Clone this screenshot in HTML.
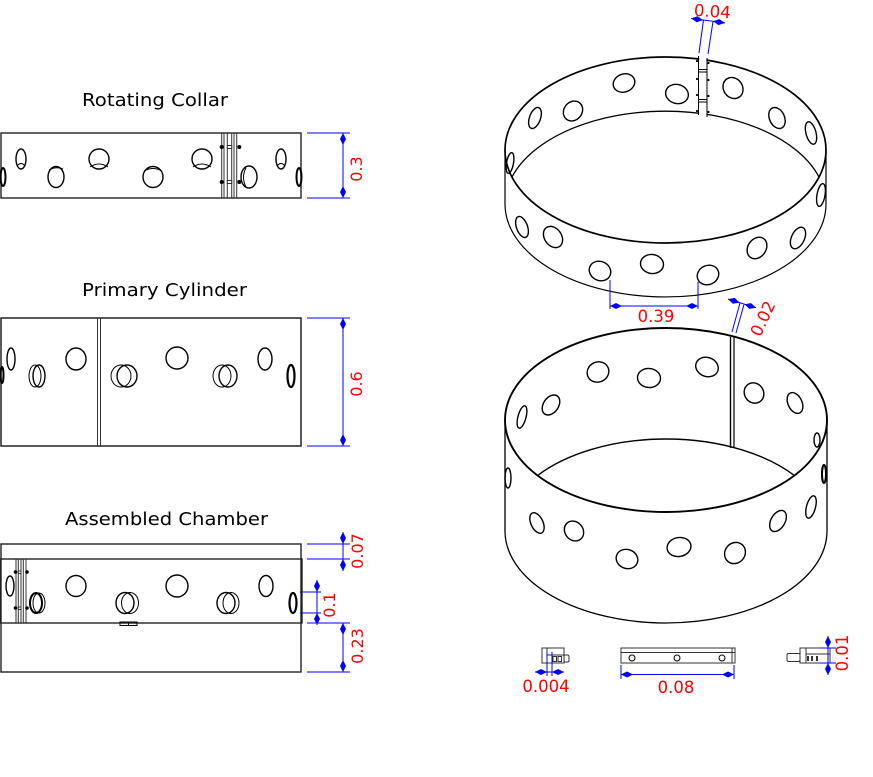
<!DOCTYPE html>
<html><head><meta charset="utf-8">
<style>
html,body{margin:0;padding:0;background:#fff;}
svg{display:block;}
text{font-family:"DejaVu Sans","Liberation Sans",sans-serif;}
</style></head><body>
<svg width="873" height="777" viewBox="0 0 873 777" xmlns="http://www.w3.org/2000/svg">
<rect width="873" height="777" fill="#fff"/>

<!-- ========== TITLES ========== -->
<text x="82" y="106" font-size="18" textLength="146" lengthAdjust="spacingAndGlyphs" fill="#000">Rotating Collar</text>
<text x="82" y="296" font-size="18" textLength="165" lengthAdjust="spacingAndGlyphs" fill="#000">Primary Cylinder</text>
<text x="65" y="525" font-size="18" textLength="203" lengthAdjust="spacingAndGlyphs" fill="#000">Assembled Chamber</text>

<!-- ========== ROTATING COLLAR ========== -->
<g fill="none" stroke="#222" stroke-width="1.4">
  <rect x="1" y="133" width="300" height="65"/>
</g>
<g fill="none" stroke="#333" stroke-width="1">
  <line x1="221.7" y1="133" x2="221.7" y2="198"/>
  <line x1="224" y1="133" x2="224" y2="198"/>
  <line x1="227.3" y1="133" x2="227.3" y2="198"/>
  <line x1="231.7" y1="133" x2="231.7" y2="198"/>
  <line x1="234" y1="133" x2="234" y2="198"/>
  <line x1="236.7" y1="133" x2="236.7" y2="198"/>
  <rect x="227.3" y="145.5" width="4.4" height="3" fill="#fff"/>
  <rect x="227.3" y="180.5" width="4.4" height="3" fill="#fff"/>
</g>
<g fill="#000">
  <circle cx="221.7" cy="147" r="2"/><circle cx="239.3" cy="147" r="2"/>
  <circle cx="221.7" cy="182" r="2"/><circle cx="239.3" cy="182" r="2"/>
</g>
<g fill="none" stroke="#000" stroke-width="1.4">
  <ellipse cx="3" cy="177" rx="2.5" ry="9" stroke-width="2"/>
  <ellipse cx="21" cy="159" rx="5" ry="10"/>
  <path d="M17,166 Q21,161 25,166" stroke-width="1"/>
  <ellipse cx="56" cy="177" rx="8" ry="10.5"/>
  <path d="M49,170 Q56,166 63,169" stroke-width="1"/>
  <ellipse cx="99" cy="159" rx="10" ry="10"/>
  <path d="M90,167 Q99,161 108,167" stroke-width="1"/>
  <ellipse cx="153" cy="177" rx="10" ry="10.5"/>
  <path d="M144,171 Q153,166 162,171" stroke-width="1"/>
  <ellipse cx="202" cy="159" rx="10" ry="10"/>
  <path d="M193,167 Q202,161 211,167" stroke-width="1"/>
  <ellipse cx="249" cy="177" rx="8" ry="11"/>
  <path d="M246,168 Q241,177 246,187" stroke-width="1"/>
  <ellipse cx="281" cy="159" rx="5" ry="10"/>
  <path d="M277,166 Q281,161 285,166" stroke-width="1"/>
  <ellipse cx="299" cy="177" rx="2.5" ry="9" stroke-width="2"/>
</g>
<!-- dim 0.3 -->
<g stroke="#0000ff" stroke-width="1" fill="none">
  <line x1="307" y1="133" x2="350" y2="133"/>
  <line x1="307" y1="198" x2="350" y2="198"/>
  <line x1="343" y1="133" x2="343" y2="198"/>
</g>
<g fill="#0000ff">
  <polygon points="343,133 346,139 343,145 340,139"/>
  <polygon points="343,198 346,192 343,186 340,192"/>
</g>
<text transform="translate(362,169) rotate(-90)" text-anchor="middle" font-size="16" fill="#ff0000">0.3</text>

<!-- ========== PRIMARY CYLINDER ========== -->
<g fill="none" stroke="#222" stroke-width="1.5">
  <rect x="1" y="318" width="300" height="128"/>
</g>
<g stroke="#333" stroke-width="1">
  <line x1="97.5" y1="318" x2="97.5" y2="446"/>
  <line x1="100.5" y1="318" x2="100.5" y2="446"/>
</g>
<g fill="none" stroke="#000" stroke-width="1.4">
  <ellipse cx="2" cy="375" rx="1.5" ry="8" stroke-width="2"/>
  <ellipse cx="11" cy="359" rx="4" ry="11"/>
  <ellipse cx="35" cy="376" rx="6" ry="11" stroke-width="1"/>
  <ellipse cx="39" cy="376" rx="6" ry="11"/>
  <ellipse cx="76" cy="359" rx="10" ry="11"/>
  <ellipse cx="121" cy="376" rx="10" ry="11" stroke-width="1"/>
  <ellipse cx="127" cy="376" rx="10" ry="11"/>
  <ellipse cx="177" cy="358" rx="11" ry="11"/>
  <ellipse cx="222" cy="376" rx="9" ry="11" stroke-width="1"/>
  <ellipse cx="228" cy="376" rx="9" ry="11"/>
  <ellipse cx="265" cy="359" rx="7" ry="11"/>
  <ellipse cx="291" cy="376" rx="3.5" ry="11" stroke-width="2.2"/>
</g>
<!-- dim 0.6 -->
<g stroke="#0000ff" stroke-width="1" fill="none">
  <line x1="307" y1="318" x2="350" y2="318"/>
  <line x1="307" y1="446" x2="350" y2="446"/>
  <line x1="343" y1="318" x2="343" y2="446"/>
</g>
<g fill="#0000ff">
  <polygon points="343,318 346,324 343,330 340,324"/>
  <polygon points="343,446 346,440 343,434 340,440"/>
</g>
<text transform="translate(362,384) rotate(-90)" text-anchor="middle" font-size="16" fill="#ff0000">0.6</text>

<!-- ========== ASSEMBLED CHAMBER ========== -->
<g fill="none" stroke="#222" stroke-width="1.4">
  <rect x="1" y="544" width="300" height="128"/>
  <rect x="0.5" y="559" width="301.5" height="64"/>
</g>
<g stroke="#333" stroke-width="1">
  <line x1="16" y1="559" x2="16" y2="623"/>
  <line x1="18.3" y1="559" x2="18.3" y2="623"/>
  <line x1="21" y1="559" x2="21" y2="623"/>
  <line x1="23.3" y1="559" x2="23.3" y2="623"/>
  <line x1="26" y1="559" x2="26" y2="623"/>
  <rect x="18.3" y="571" width="2.7" height="2.5" fill="#fff"/>
  <rect x="18.3" y="607" width="2.7" height="2.5" fill="#fff"/>
</g>
<g fill="#000">
  <circle cx="15.5" cy="572" r="1.8"/><circle cx="27" cy="572" r="1.8"/>
  <circle cx="15.5" cy="608" r="1.8"/><circle cx="27" cy="608" r="1.8"/>
</g>
<g fill="none" stroke="#000" stroke-width="1.4">
  <ellipse cx="10" cy="586" rx="4" ry="10"/>
  <ellipse cx="36" cy="603" rx="6" ry="10" stroke-width="2"/>
  <ellipse cx="39" cy="603" rx="6" ry="10" stroke-width="1"/>
  <ellipse cx="76" cy="586" rx="10" ry="10.5"/>
  <ellipse cx="125" cy="603" rx="9" ry="10.5"/>
  <ellipse cx="130" cy="603" rx="8.5" ry="10.5" stroke-width="1"/>
  <ellipse cx="177" cy="586" rx="11" ry="11"/>
  <ellipse cx="226" cy="603" rx="9" ry="10.5"/>
  <ellipse cx="231" cy="603" rx="8" ry="10.5" stroke-width="1"/>
  <ellipse cx="266" cy="586" rx="7" ry="10.5"/>
  <ellipse cx="293" cy="603" rx="3.5" ry="10" stroke-width="2.2"/>
  <rect x="120" y="622" width="17" height="3.5" stroke-width="1"/>
  <line x1="128.5" y1="622" x2="128.5" y2="625.5" stroke-width="1"/>
</g>
<!-- dims assembled -->
<g stroke="#0000ff" stroke-width="1" fill="none">
  <line x1="307" y1="544" x2="350" y2="544"/>
  <line x1="307" y1="559" x2="350" y2="559"/>
  <line x1="343" y1="532" x2="343" y2="571"/>
  <line x1="300" y1="592" x2="321" y2="592"/>
  <line x1="300" y1="613" x2="321" y2="613"/>
  <line x1="317" y1="580" x2="317" y2="625"/>
  <line x1="307" y1="623" x2="350" y2="623"/>
  <line x1="307" y1="672" x2="350" y2="672"/>
  <line x1="343" y1="623" x2="343" y2="672"/>
</g>
<g fill="#0000ff">
  <polygon points="343,544 346,538 343,532 340,538"/>
  <polygon points="343,559 346,565 343,571 340,565"/>
  <polygon points="317,592 320,586 317,580 314,586"/>
  <polygon points="317,613 320,619 317,625 314,619"/>
  <polygon points="343,623 346,629 343,635 340,629"/>
  <polygon points="343,672 346,666 343,660 340,666"/>
</g>
<text transform="translate(363,551) rotate(-90)" text-anchor="middle" font-size="16" fill="#ff0000">0.07</text>
<text transform="translate(335,605) rotate(-90)" text-anchor="middle" font-size="16" fill="#ff0000">0.1</text>
<text transform="translate(363,646) rotate(-90)" text-anchor="middle" font-size="16" fill="#ff0000">0.23</text>

<!-- ========== TOP RING ========== -->
<g fill="none" stroke="#000">
  <ellipse cx="665.5" cy="150" rx="160.5" ry="93" stroke-width="1.7"/>
  <path d="M512,177 A160.5,93 0 0 1 819,177" stroke-width="1.3"/>
  <path d="M505,150 L505,204 A160.5,93 0 0 0 826,204 L826,150" stroke-width="1.2"/>
</g>
<rect x="699.2" y="48" width="7.2" height="72" fill="#fff"/>
<g stroke="#000" stroke-width="1" fill="none">
  <line x1="698.5" y1="56" x2="698.5" y2="115"/>
  <line x1="707" y1="58" x2="707" y2="117"/>
  <line x1="699" y1="69.5" x2="707" y2="69.5"/>
  <line x1="699" y1="72" x2="707" y2="72"/>
  <line x1="699" y1="99.5" x2="707" y2="99.5"/>
  <line x1="699" y1="102" x2="707" y2="102"/>
</g>
<g fill="#000">
  <circle cx="697" cy="61" r="1.1"/><circle cx="697" cy="79" r="1.1"/><circle cx="697" cy="95" r="1.1"/><circle cx="697" cy="111" r="1.1"/>
  <circle cx="708.5" cy="63" r="1.1"/><circle cx="708.5" cy="80" r="1.1"/><circle cx="708.5" cy="96" r="1.1"/><circle cx="708.5" cy="112" r="1.1"/>
</g>
<g fill="none" stroke="#000" stroke-width="1.4">
  <!-- back wall -->
  <ellipse cx="510" cy="163" rx="3.5" ry="10.5" transform="rotate(10 510 163)"/>
  <ellipse cx="535" cy="118" rx="5.5" ry="11" transform="rotate(20 535 118)"/>
  <ellipse cx="573" cy="111" rx="9" ry="10.5" transform="rotate(40 573 111)"/>
  <ellipse cx="624" cy="83" rx="11" ry="9" transform="rotate(-20 624 83)"/>
  <ellipse cx="677" cy="94" rx="11.5" ry="9.5" transform="rotate(15 677 94)"/>
  <ellipse cx="733" cy="88" rx="9.5" ry="11" transform="rotate(-35 733 88)"/>
  <ellipse cx="777" cy="118" rx="7.5" ry="11" transform="rotate(-25 777 118)"/>
  <ellipse cx="811" cy="133" rx="5" ry="11.5" transform="rotate(-15 811 133)"/>
  <!-- front wall -->
  <ellipse cx="522" cy="227" rx="5.5" ry="11" transform="rotate(-20 522 227)"/>
  <ellipse cx="553" cy="237" rx="8.5" ry="11.5" transform="rotate(-35 553 237)"/>
  <ellipse cx="600" cy="271" rx="11" ry="9.5" transform="rotate(25 600 271)"/>
  <ellipse cx="652" cy="264" rx="11.5" ry="9.5" transform="rotate(8 652 264)"/>
  <ellipse cx="708" cy="275" rx="11" ry="9.5" transform="rotate(-25 708 275)"/>
  <ellipse cx="757" cy="248" rx="9" ry="11.5" transform="rotate(35 757 248)"/>
  <ellipse cx="798" cy="238" rx="6.5" ry="11.5" transform="rotate(25 798 238)"/>
  <ellipse cx="821" cy="195" rx="4" ry="11.5" transform="rotate(10 821 195)"/>
</g>
<!-- dim 0.04 -->
<g stroke="#0000ff" stroke-width="1" fill="none">
  <line x1="699" y1="53" x2="703.5" y2="20"/>
  <line x1="708" y1="54" x2="713" y2="21.5"/>
  <line x1="691" y1="18.4" x2="725" y2="22.9"/>
</g>
<g fill="#0000ff">
  <polygon points="703,20 696.7,22.2 691.1,18.4 697.5,16.3"/>
  <polygon points="713,21.3 719.3,19.1 724.9,22.9 718.5,25.1"/>
</g>
<text transform="translate(712,17) rotate(4)" text-anchor="middle" font-size="16.5" fill="#ff0000">0.04</text>
<!-- dim 0.39 -->
<g stroke="#0000ff" stroke-width="1" fill="none">
  <line x1="610" y1="280" x2="610" y2="309"/>
  <line x1="698" y1="282" x2="698" y2="309"/>
  <line x1="610" y1="306" x2="698" y2="306"/>
</g>
<g fill="#0000ff">
  <polygon points="610,306 616,303 622,306 616,309"/>
  <polygon points="698,306 692,303 686,306 692,309"/>
</g>
<text x="656" y="322" text-anchor="middle" font-size="16.5" fill="#ff0000">0.39</text>

<!-- ========== BOTTOM RING ========== -->
<g fill="none" stroke="#000">
  <ellipse cx="666" cy="420" rx="161" ry="92" stroke-width="1.9"/>
  <path d="M537.6,475.5 A161,92 0 0 1 794.4,475.5" stroke-width="1.4"/>
  <path d="M505,420 L505,531 A161,92 0 0 0 827,531 L827,420" stroke-width="1.3"/>
  <line x1="730.5" y1="337" x2="730.5" y2="448" stroke-width="1.4"/>
  <line x1="734" y1="337" x2="734" y2="448" stroke-width="1.2"/>
</g>
<g fill="none" stroke="#000" stroke-width="1.4">
  <!-- back wall -->
  <ellipse cx="522" cy="417" rx="4" ry="11.5" transform="rotate(15 522 417)"/>
  <ellipse cx="551" cy="405" rx="7.5" ry="11" transform="rotate(35 551 405)"/>
  <ellipse cx="598" cy="372" rx="11" ry="10" transform="rotate(-25 598 372)"/>
  <ellipse cx="649" cy="378" rx="11.5" ry="9.5" transform="rotate(5 649 378)"/>
  <ellipse cx="707" cy="367" rx="11.5" ry="9.5" transform="rotate(20 707 367)"/>
  <ellipse cx="754" cy="393" rx="9.5" ry="10.5" transform="rotate(-35 754 393)"/>
  <ellipse cx="795" cy="403" rx="7" ry="11" transform="rotate(-25 795 403)"/>
  <ellipse cx="817" cy="440" rx="3" ry="7"/>
  <!-- front wall -->
  <ellipse cx="508" cy="478" rx="3" ry="10"/>
  <ellipse cx="537" cy="523" rx="6" ry="11" transform="rotate(-25 537 523)"/>
  <ellipse cx="574" cy="531" rx="9" ry="10.5" transform="rotate(-40 574 531)"/>
  <ellipse cx="627" cy="559" rx="11" ry="9.5" transform="rotate(20 627 559)"/>
  <ellipse cx="679" cy="547" rx="12" ry="9.5" transform="rotate(-10 679 547)"/>
  <ellipse cx="735" cy="553" rx="10" ry="11" transform="rotate(40 735 553)"/>
  <ellipse cx="778" cy="521" rx="7" ry="11.5" transform="rotate(30 778 521)"/>
  <ellipse cx="811" cy="507" rx="4.5" ry="11.5" transform="rotate(15 811 507)"/>
  <ellipse cx="824" cy="474" rx="2" ry="9" stroke-width="2"/>
</g>
<!-- dim 0.02 -->
<g stroke="#0000ff" stroke-width="1" fill="none">
  <line x1="740" y1="303" x2="732" y2="332"/>
  <line x1="744" y1="304.5" x2="736" y2="333"/>
  <line x1="728" y1="299.1" x2="756" y2="307.7"/>
</g>
<g fill="#0000ff">
  <polygon points="739.5,302.6 732.9,303.7 728,299.1 734.7,297.9"/>
  <polygon points="744.5,304.2 751.1,303.1 756,307.7 749.3,308.9"/>
</g>
<text transform="translate(768,321) rotate(-65)" text-anchor="middle" font-size="16.5" fill="#ff0000">0.02</text>

<!-- ========== SMALL PARTS ========== -->
<g fill="none" stroke="#333" stroke-width="1">
  <!-- part 1 -->
  <rect x="542" y="648" width="22" height="15"/>
  <line x1="547" y1="648" x2="547" y2="663"/>
  <line x1="547" y1="655" x2="564" y2="655"/>
  <rect x="553" y="656.5" width="3.5" height="5"/>
  <rect x="558" y="656.5" width="3.5" height="5"/>
  <rect x="564" y="655" width="5" height="7" rx="1.5"/>
  <!-- part 2 -->
  <rect x="621" y="648" width="114" height="15"/>
  <line x1="621" y1="652.5" x2="735" y2="652.5"/>
  <line x1="732" y1="648" x2="732" y2="663"/>
  <circle cx="632" cy="658" r="3" stroke="#000"/>
  <circle cx="677" cy="658" r="3" stroke="#000"/>
  <circle cx="722" cy="658" r="3" stroke="#000"/>
  <!-- part 3 -->
  <rect x="787" y="653.5" width="13" height="8" rx="1.5"/>
  <rect x="800" y="648" width="30" height="15"/>
  <line x1="806" y1="648" x2="806" y2="663"/>
  <line x1="806" y1="654" x2="830" y2="654"/>
</g>
<g stroke="#000" stroke-width="1.6">
  <line x1="808" y1="656" x2="808" y2="661"/>
  <line x1="812" y1="656" x2="812" y2="661"/>
  <line x1="817" y1="656" x2="817" y2="661"/>
</g>
<!-- dim 0.004 -->
<g stroke="#0000ff" stroke-width="1" fill="none">
  <line x1="547" y1="652" x2="547" y2="676"/>
  <line x1="552" y1="652" x2="552" y2="676"/>
  <line x1="535" y1="672" x2="564" y2="672"/>
</g>
<g fill="#0000ff">
  <polygon points="547,672 541,669 535,672 541,675"/>
  <polygon points="552,672 558,669 564,672 558,675"/>
</g>
<text x="546" y="692" text-anchor="middle" font-size="16.5" fill="#ff0000">0.004</text>
<!-- dim 0.08 -->
<g stroke="#0000ff" stroke-width="1" fill="none">
  <line x1="621" y1="665" x2="621" y2="679"/>
  <line x1="734" y1="665" x2="734" y2="679"/>
  <line x1="621" y1="674.5" x2="734" y2="674.5"/>
</g>
<g fill="#0000ff">
  <polygon points="621,674.5 627,671.5 633,674.5 627,677.5"/>
  <polygon points="734,674.5 728,671.5 722,674.5 728,677.5"/>
</g>
<text x="676" y="693" text-anchor="middle" font-size="16.5" fill="#ff0000">0.08</text>
<!-- dim 0.01 -->
<g stroke="#0000ff" stroke-width="1" fill="none">
  <line x1="820" y1="648" x2="836" y2="648"/>
  <line x1="820" y1="663" x2="836" y2="663"/>
  <line x1="828" y1="636" x2="828" y2="675"/>
</g>
<g fill="#0000ff">
  <polygon points="828,648 831,642 828,636 825,642"/>
  <polygon points="828,663 831,669 828,675 825,669"/>
</g>
<text transform="translate(848,653) rotate(-90)" text-anchor="middle" font-size="16.5" fill="#ff0000">0.01</text>
</svg>
</body></html>
